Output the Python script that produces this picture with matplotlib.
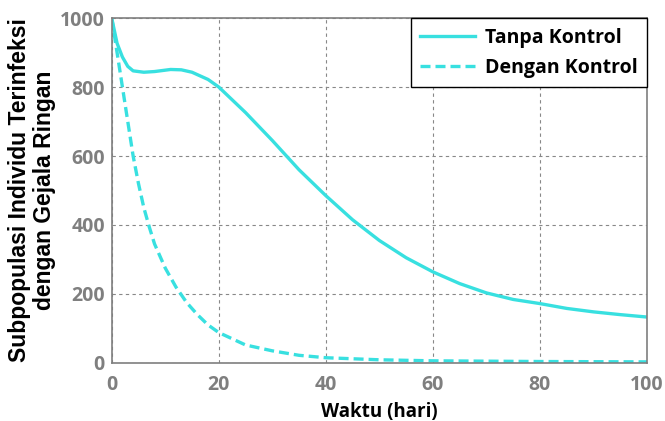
import os
import numpy as np
import matplotlib
matplotlib.use('Agg')
import matplotlib.pyplot as plt
from matplotlib import font_manager as fm

# data
t_tanpa = [0, 1, 2, 3, 4, 6, 8, 11, 13, 15, 18, 20, 25, 30, 35, 40, 45, 50, 55, 60, 65, 70, 75, 80, 85, 90, 95, 100]
y_tanpa = [1000, 927, 887, 860, 847, 843, 845, 851, 850, 843, 822, 800, 726, 645, 560, 485, 415, 355, 305, 264, 230, 203, 184, 172, 158, 148, 140, 133]

t_dengan = [0, 1, 2, 3, 4, 5, 6, 7, 8, 10, 12, 14, 16, 18, 20, 25, 30, 35, 40, 50, 60, 80, 100]
y_dengan = [1000, 900, 800, 700, 600, 520, 450, 395, 345, 275, 220, 175, 140, 110, 88, 52, 35, 22, 15, 9, 6, 4, 3]

xticks = [0, 20, 40, 60, 80, 100]
yticks = [0, 200, 400, 600, 800, 1000]

cyan = '#38E0E0'
gray = '#7f7f7f'


def pick_font(key, fallback):
    # look for a plain (not narrow / condensed) bold file
    for f in fm.fontManager.ttflist:
        base = os.path.basename(f.fname).lower()
        if key in base and 'narrow' not in base and 'condensed' not in base and f.weight in (700, 'bold'):
            if 'italic' in base:
                continue
            return fm.FontProperties(fname=f.fname)
    return fm.FontProperties(family=fallback, weight='bold')


arial_b = pick_font('liberationsans', 'Liberation Sans')
open_b = pick_font('opensans', 'Open Sans')

fig = plt.figure(figsize=(6.65, 4.21), dpi=100)
ax = fig.add_axes([0.168, 0.138, 0.805, 0.819])

ax.plot(t_tanpa, y_tanpa, color=cyan, lw=2.4, label='Tanpa Kontrol')
ax.plot(t_dengan, y_dengan, color=cyan, lw=2.4, ls=(0, (3, 1.5)), label='Dengan Kontrol')

ax.set_xlim(0, 100)
ax.set_ylim(0, 1000)
ax.set_xticks(xticks)
ax.set_yticks(yticks)
ax.grid(True, ls=(0, (3, 3)), color='#888888', lw=0.8)
ax.tick_params(length=0, labelcolor=gray)
ax.tick_params(axis='x', pad=9)
ax.tick_params(axis='y', pad=5)
for lab in ax.get_xticklabels() + ax.get_yticklabels():
    lab.set_fontproperties(open_b)
    lab.set_fontsize(14)
for s in ax.spines.values():
    s.set_color(gray)
    s.set_linewidth(1.2)

ax.set_xlabel('Waktu (hari)', fontproperties=open_b, fontsize=13.5, labelpad=5)
ax.set_ylabel('Subpopulasi Individu Terinfeksi\ndengan Gejala Ringan', fontproperties=arial_b,
              fontsize=16.5, labelpad=3, linespacing=1.1)

lp = open_b.copy()
lp.set_size(14)
leg = ax.legend(loc='upper right', prop=lp,
                fancybox=False, framealpha=1, edgecolor='black', borderaxespad=0.0,
                handlelength=2.8, handletextpad=0.5, borderpad=0.5, labelspacing=0.5)
leg.get_frame().set_linewidth(1.0)

fig.savefig('out.png', dpi=100)
